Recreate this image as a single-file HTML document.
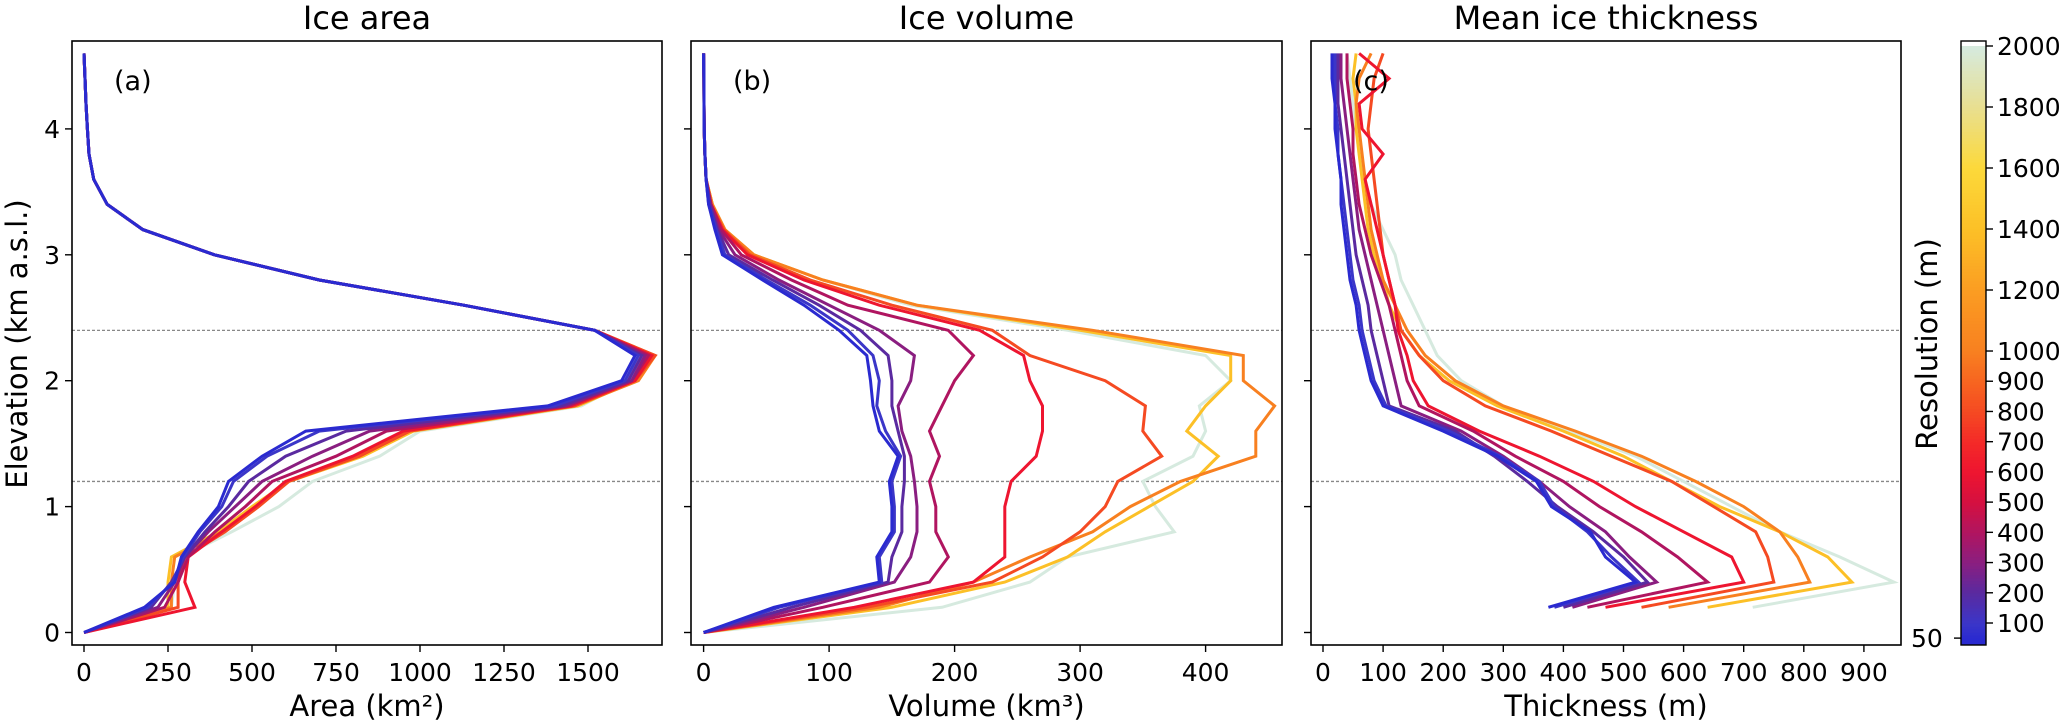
<!DOCTYPE html>
<html><head><meta charset="utf-8"><style>
body{margin:0;background:#fff}
svg{display:block;font-family:"DejaVu Sans","Liberation Sans",sans-serif}
</style></head><body>
<svg id="fig" width="2067" height="724" viewBox="0 0 2067 724"></svg>
<script>
const resolutions=[2000,1400,1000,800,600,400,300,200,100,50];
const elevA=[0,0.2,0.4,0.6,0.8,1.0,1.2,1.4,1.6,1.8,2.0,2.2,2.4,2.6,2.8,3.0,3.2,3.4,3.6,3.8,4.0,4.2,4.4,4.6];
const elevT=[0.2,0.4,0.6,0.8,1.0,1.2,1.4,1.6,1.8,2.0,2.2,2.4,2.6,2.8,3.0,3.2,3.4,3.6,3.8,4.0,4.2,4.4,4.6];
const areaUpper=[1520,1130,700,388,175,69,29,15,10,6,3,0];
const area2000=[0,260,270,290,440,580,680,880,1000,1480,1620,1660];
const area1400=[0,250,250,260,400,500,610,830,980,1470,1640,1690];
const area1000=[0,260,260,270,410,510,600,810,960,1460,1650,1700];
const area800=[0,280,280,300,420,520,610,820,970,1460,1640,1700];
const area600=[0,330,300,310,410,510,600,800,950,1450,1640,1690];
const area400=[0,240,280,310,390,480,560,750,900,1440,1630,1680];
const area300=[0,220,270,300,370,450,530,680,850,1430,1630,1670];
const area200=[0,200,260,300,360,430,490,600,780,1420,1620,1660];
const area100=[0,190,265,295,345,410,445,545,700,1400,1610,1650];
const area50=[0,180,270,290,340,400,430,530,660,1380,1600,1640];
const vol2000=[0,190,260,290,375,360,350,390,400,395,420,400,290,165,95,40,17,7,2,1,0.5,0.3,0.2,0];
const vol1400=[0,150,240,290,320,355,390,410,385,400,420,420,300,170,95,40,17,7,2,1,0.5,0.3,0.2,0];
const vol1000=[0,140,215,260,310,340,380,440,440,455,430,430,310,170,95,40,17,7,2,1,0.5,0.3,0.2,0];
const vol800=[0,130,230,270,300,320,330,365,350,352,320,260,230,150,85,37,16,6,2,1,0.5,0.3,0.2,0];
const vol600=[0,120,215,240,240,240,245,265,270,270,260,255,220,140,80,35,15,6,2,1,0.5,0.3,0.2,0];
const vol400=[0,95,180,195,185,185,180,188,180,190,200,215,195,115,70,30,14,6,2,1,0.5,0.3,0.2,0];
const vol300=[0,80,152,165,170,170,168,165,158,155,165,168,140,100,60,25,12,5,2,1,0.5,0.3,0.2,0];
const vol200=[0,70,147,150,158,158,160,160,155,150,150,147,125,92,55,20,11,5,2,1,0.5,0.3,0.2,0];
const vol100=[0,60,142,140,152,152,150,157,145,138,140,135,115,85,50,17,10,4,2,1,0.5,0.3,0.2,0];
const vol50=[0,56,140,138,150,150,148,155,140,135,133,130,108,80,47,15,9,4,2,1,0.5,0.3,0.2,0];
const thk2000=[715,950,860,760,680,600,520,410,300,230,190,170,150,130,120,100,80,70,60,55,50,45,40];
const thk1400=[640,880,840,760,660,580,500,400,290,210,160,130,110,100,85,75,70,65,60,55,55,50,55];
const thk1000=[575,810,790,760,700,620,530,420,300,220,170,140,120,100,90,80,75,70,65,60,55,60,80];
const thk800=[530,750,740,720,650,580,480,380,270,200,160,130,120,110,100,95,90,85,80,75,80,85,100];
const thk600=[470,700,680,600,520,450,360,260,175,150,140,125,120,110,100,90,80,70,100,65,60,110,60];
const thk400=[440,640,590,530,460,400,320,250,160,140,130,120,110,95,80,70,60,55,50,50,45,40,40];
const thk300=[415,555,510,470,410,360,300,230,130,120,110,100,90,80,70,60,55,50,45,40,35,30,30];
const thk200=[400,540,500,450,390,340,285,220,110,100,90,80,75,65,55,50,45,40,35,30,25,25,25];
const thk100=[385,525,480,440,385,360,295,210,105,85,75,65,60,50,45,40,35,30,25,25,20,20,20];
const thk50=[375,520,470,445,380,355,290,200,100,80,70,60,55,45,40,35,30,30,25,20,20,15,15];
const areaLower=[area2000,area1400,area1000,area800,area600,area400,area300,area200,area100,area50];
const volumes=[vol2000,vol1400,vol1000,vol800,vol600,vol400,vol300,vol200,vol100,vol50];
const thicknesses=[thk2000,thk1400,thk1000,thk800,thk600,thk400,thk300,thk200,thk100,thk50];
const areaTicks=[0,250,500,750,1000,1250,1500];
const volTicks=[0,100,200,300,400];
const thkTicks=[0,100,200,300,400,500,600,700,800,900];
const elevTicks=[0,1,2,3,4];
const cbTicks=[50,100,200,300,400,500,600,700,800,900,1000,1200,1400,1600,1800,2000];

const NS="http://www.w3.org/2000/svg";
const svg=document.getElementById('fig');
function mk(tag,attrs,parent){const e=document.createElementNS(NS,tag);for(const k in attrs)e.setAttribute(k,attrs[k]);(parent||svg).appendChild(e);return e;}
const TOP=41,BOT=645;
function yE(e){return 632.5-e*125.9;}
const stops=[[50,[42,42,208]],[100,[59,54,200]],[200,[90,42,160]],[300,[138,30,128]],[400,[176,21,96]],[500,[213,16,64]],[600,[238,21,48]],[700,[244,42,40]],[800,[245,74,34]],[900,[247,101,32]],[1000,[248,128,32]],[1200,[251,157,34]],[1400,[252,192,39]],[1600,[252,217,58]],[1800,[232,223,144]],[2000,[214,234,223]]];
function col(v){if(v<=50)return 'rgb(42,42,208)';for(let i=0;i<stops.length-1;i++){const a=stops[i],b=stops[i+1];if(v<=b[0]){const t=(v-a[0])/(b[0]-a[0]);const c=a[1].map((x,j)=>Math.round(x+(b[1][j]-x)*t));return `rgb(${c})`;}}return 'rgb(214,234,223)';}
const panels=[
 {key:'area',x0:72,x1:662,xpx0:84,k:0.336,ticks:areaTicks,title:'Ice area',xlabel:'Area (km²)',tag:'(a)'},
 {key:'volume',x0:691,x1:1282,xpx0:703.6,k:1.255,ticks:volTicks,title:'Ice volume',xlabel:'Volume (km³)',tag:'(b)'},
 {key:'thickness',x0:1311,x1:1901,xpx0:1323,k:0.601,ticks:thkTicks,title:'Mean ice thickness',xlabel:'Thickness (m)',tag:'(c)'}];
panels.forEach((p,pi)=>{
 const g=mk('g',{});
 
 
 const xs=v=>p.xpx0+v*p.k;
 [2.4,1.2].forEach(e=>{const l=mk('line',{x1:p.x0,x2:p.x1,y1:yE(e),y2:yE(e),stroke:'#888','stroke-width':1.3,'stroke-dasharray':'3,2'},g);
  
  });
 resolutions.forEach((r,si)=>{
  let pts=[];
  if(pi===0){const vals=areaLower[si].concat(areaUpper);pts=vals.map((v,i)=>[xs(v),yE(elevA[i])]);}
  else if(pi===1){pts=volumes[si].map((v,i)=>[xs(v),yE(elevA[i])]);}
  else{pts=thicknesses[si].map((v,i)=>[xs(v),yE(elevT[i])]);}
  const pl=mk('polyline',{points:pts.map(q=>q.map(n=>n.toFixed(1)).join(',')).join(' '),fill:'none',stroke:col(r),'stroke-width':3,'stroke-linejoin':'miter'},g);
  
  
 });
 const fr=mk('rect',{x:p.x0,y:TOP,width:p.x1-p.x0,height:BOT-TOP,fill:'none',stroke:'#000','stroke-width':1.6},g);
 
 
 p.ticks.forEach(t=>{const x=xs(t);mk('line',{x1:x,x2:x,y1:BOT,y2:BOT+7,stroke:'#000','stroke-width':1.4},g);
  const tx=mk('text',{x:x,y:681,'font-size':25,'text-anchor':'middle'},g);tx.textContent=t;
  
  });
 elevTicks.forEach(t=>{const y=yE(t);mk('line',{x1:p.x0-7,x2:p.x0,y1:y,y2:y,stroke:'#000','stroke-width':1.4},g);
  if(pi===0){const tx=mk('text',{x:p.x0-12,y:y+9,'font-size':25,'text-anchor':'end'},g);tx.textContent=t;
   
   }});
 const ti=mk('text',{x:(p.x0+p.x1)/2,y:29,'font-size':32,'text-anchor':'middle'},g);ti.textContent=p.title;
 
 
 const xl=mk('text',{x:(p.x0+p.x1)/2,y:716,'font-size':29,'text-anchor':'middle'},g);xl.textContent=p.xlabel;
 
 
 const tg=mk('text',{x:p.x0+42,y:90,'font-size':27},g);tg.textContent=p.tag;
 
 
});
const yl=mk('text',{x:0,y:0,'font-size':29,'text-anchor':'middle',transform:'translate(27,344) rotate(-90)'});
yl.textContent='Elevation (km a.s.l.)';


function cbY(v){return v<=1000?623-(v-100)*0.3022:351-(v-1000)*0.305;}
const cb=mk('g',{});


mk('rect',{x:1961,y:cbY(60),width:25,height:645-cbY(60),fill:col(50)},cb);
for(let v=50;v<2000;v+=10){mk('rect',{x:1961,y:Math.max(41,cbY(v+10)),width:25,height:cbY(v)-cbY(v+10)+0.6,fill:col(v+5)},cb);}
mk('rect',{x:1961,y:41,width:25,height:604,fill:'none',stroke:'#000','stroke-width':1.4},cb);
cbTicks.forEach(t=>{const y=cbY(t);
 if(t===50){mk('line',{x1:1954,x2:1961,y1:y,y2:y,stroke:'#000','stroke-width':1.4},cb);}
 else{mk('line',{x1:1986,x2:1993,y1:y,y2:y,stroke:'#000','stroke-width':1.4},cb);}
 const tx=mk('text',{x:t===50?1911:1997,y:y+9,'font-size':25,'text-anchor':'start'},cb);tx.textContent=t;
 
 });
const cl=mk('text',{x:0,y:0,'font-size':29,'text-anchor':'middle',transform:'translate(1937,344) rotate(-90)'});
cl.textContent='Resolution (m)';


</script>
</body></html>
